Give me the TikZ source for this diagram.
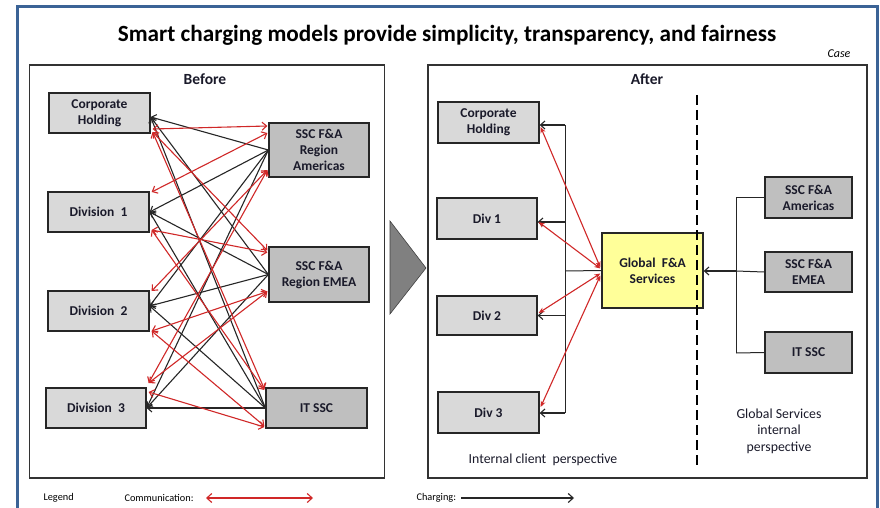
\documentclass[tikz,border=0pt]{standalone}
\usepackage{fontspec}
\setmainfont{Carlito}
\usetikzlibrary{arrows.meta,calc}

\definecolor{frameblue}{HTML}{3B6396}
\definecolor{boxlight}{HTML}{D9D9D9}
\definecolor{boxdark}{HTML}{BFBFBF}
\definecolor{commred}{HTML}{D02828}
\definecolor{globyellow}{HTML}{FFFF99}
\definecolor{chevron}{HTML}{808080}
\definecolor{inktext}{HTML}{1A1A2A}

\begin{document}
\begin{tikzpicture}[x=1pt,y=-1pt,
  boxbase/.style={draw=black!85, line width=1.3pt, align=center, inner sep=0pt,
    font=\fontsize{13.5}{16}\selectfont\bfseries, text=inktext},
  client/.style={boxbase, fill=boxlight},
  provider/.style={boxbase, fill=boxdark},
  panel/.style={draw=black!80, line width=1.2pt, fill=white},
  charge/.style={draw=black!85, line width=1.1pt, -{Straight Barb[length=4.5pt,width=8pt]}},
  commline/.style={draw=commred, line width=1.1pt, {Straight Barb[length=4.5pt,width=8pt]}-{Straight Barb[length=4.5pt,width=8pt]}},
  commsolid/.style={draw=commred, line width=1.1pt, {Stealth[length=6pt,width=5pt]}-{Stealth[length=6pt,width=5pt]}},
  plainline/.style={draw=black!85, line width=1pt},
  caption/.style={font=\fontsize{13.8}{16.5}\selectfont, text=inktext, align=center},
  legendtext/.style={font=\fontsize{10.3}{12}\selectfont, text=black, anchor=west}
]
\useasboundingbox (0,0) rectangle (880,508);
\fill[white] (0,0) rectangle (880,508);

% outer frame
\draw[frameblue, line width=3pt] (17,515) -- (17,7) -- (877,7) -- (877,515);

% title
\node[font=\fontsize{23.2}{27}\selectfont\bfseries, text=black] (title) at (447,35)
  {Smart charging models provide simplicity, transparency, and fairness};
\node[font=\fontsize{12}{14}\selectfont\itshape, anchor=east, text=black] (case) at (854,54) {Case};

% panels
\node[panel, minimum width=355pt, minimum height=413pt] (before) at (207,271.5) {};
\node[panel, minimum width=439pt, minimum height=413pt] (after) at (647.5,271.5) {};
\node[font=\fontsize{15.5}{18}\selectfont\bfseries, text=inktext] (beforelbl) at (205,79) {Before};
\node[font=\fontsize{15.5}{18}\selectfont\bfseries, text=inktext] (afterlbl) at (647,79) {After};

% transition chevron
\draw[black!75, fill=chevron, line width=0.6pt] (390,221) -- (426,268) -- (390,314) -- cycle;

% ---------- before: every unit talks to and is charged by every provider
\node[client, minimum width=101pt, minimum height=40pt] (bch) at (99.5,113) {Corporate\\Holding};
\node[client, minimum width=101pt, minimum height=40pt] (bd1) at (98.5,212) {Division\ \ 1};
\node[client, minimum width=101pt, minimum height=40pt] (bd2) at (98.5,311) {Division\ \ 2};
\node[client, minimum width=100pt, minimum height=40pt] (bd3) at (96,408) {Division\ \ 3};
\node[provider, minimum width=100pt, minimum height=54pt] (bam) at (319,150) {SSC F\&A\\Region\\Americas};
\node[provider, minimum width=100pt, minimum height=55pt] (bem) at (319,274.5) {SSC F\&A\\Region EMEA};
\node[provider, minimum width=101pt, minimum height=40pt] (bit) at (316.5,408) {IT SSC};

% charging links
\foreach \s in {bam,bem,bit}
  \foreach \t/\dy in {bch/4,bd1/0,bd2/-5,bd3/0}
    \draw[charge] (\s.west) -- ($(\t.east)+(0,\dy)$);

% communication links
\foreach \a/\da/\b/\db in {
    bch/16/bam/-24, bch/19/bem/-24, bch/19/bit/-19,
    bd1/-20/bam/-17, bd1/18/bem/-22, bd1/18/bit/-18,
    bd2/-20/bam/20, bd2/20/bem/17, bd2/20/bit/18,
    bd3/-25/bam/20, bd3/-25/bem/17, bd3/-16/bit/19}
  \draw[commline] ($(\a.east)+(2,\da)$) -- ($(\b.west)+(-1,\db)$);

% ---------- after: one global unit in between
\node[client, minimum width=101pt, minimum height=41pt] (ach) at (488.5,122.5) {Corporate\\Holding};
\node[client, minimum width=100pt, minimum height=41pt] (ad1) at (487,218.5) {Div 1};
\node[client, minimum width=100pt, minimum height=39pt] (ad2) at (487,315.5) {Div 2};
\node[client, minimum width=101pt, minimum height=41pt] (ad3) at (488.5,412.5) {Div 3};
\node[boxbase, fill=globyellow, minimum width=101pt, minimum height=75pt] (glob) at (652.5,270.5) {Global\ \ F\&A\\Services};
\node[provider, minimum width=87pt, minimum height=41pt] (aam) at (808.5,197.5) {SSC F\&A\\Americas};
\node[provider, minimum width=87pt, minimum height=40pt] (aem) at (808.5,272) {SSC F\&A\\EMEA};
\node[provider, minimum width=87pt, minimum height=41pt] (ait) at (808.5,352.5) {IT SSC};

% charging from the global unit to the divisions
\coordinate (lbus) at (565,271);
\coordinate (lbtop) at (565,125);
\coordinate (lbbot) at (565,413);
\draw[plainline] (lbtop) -- (lbbot);
\draw[plainline] (lbus) -- (glob.west);
\draw[charge] (lbtop) -- (ach.east |- lbtop);
\draw[charge] ($(lbus |- ad1.east)+(0,3.5)$) -- ($(ad1.east)+(0,3.5)$);
\draw[charge] (lbus |- ad2.east) -- (ad2.east);
\draw[charge] (lbbot) -- (ad3.east |- lbbot);

% communication from the global unit
\draw[commsolid] ($(glob.west)+(-1,-3)$) -- ($(ach.east)+(1,4.5)$);
\draw[commsolid] ($(glob.west)+(-1,-2)$) -- ($(ad1.east)+(1,3.5)$);
\draw[commsolid] ($(glob.west)+(-1,3)$) -- ($(ad2.east)+(1,-2.5)$);
\draw[commsolid] ($(glob.west)+(-1,5)$) -- ($(ad3.east)+(1,-5.5)$);

% charging from the shared service centres to the global unit
\coordinate (rbtop) at (736,197.5);
\coordinate (rbmid) at (736,271);
\coordinate (rbbot) at (736,353);
\draw[plainline] (rbtop) -- (rbbot);
\draw[plainline] (aam.west) -- (rbtop);
\draw[plainline] (aem.west) -- (rbmid);
\draw[plainline] (ait.west) -- (rbbot);

% boundary between the two perspectives
\coordinate (dtop) at (697,95);
\coordinate (dbot) at (697,467);
\draw[black, line width=2.3pt, dash pattern=on 10pt off 5pt] (dtop) -- (dbot);
\draw[charge] (rbmid) -- (glob.east |- rbmid);

\node[caption] (clientview) at (543,460) {Internal client\ \ perspective};
\node[caption] (serviceview) at (779,431) {Global Services\\internal\\perspective};

% legend
\node[legendtext] (legend) at (40,498) {Legend};
\node[legendtext] (commlbl) at (121,498) {Communication:};
\coordinate (ca) at (206,498);
\coordinate (cb) at (313,498);
\draw[draw=commred, line width=1.1pt, {Straight Barb[length=5pt,width=9pt]}-{Straight Barb[length=5pt,width=9pt]}] (ca) -- (cb);
\node[legendtext] (chlbl) at (413,498) {Charging:};
\coordinate (ka) at (461,498);
\coordinate (kb) at (574,498);
\draw[draw=black!85, line width=1.1pt, -{Straight Barb[length=5pt,width=9pt]}] (ka) -- (kb);
\end{tikzpicture}
\end{document}
